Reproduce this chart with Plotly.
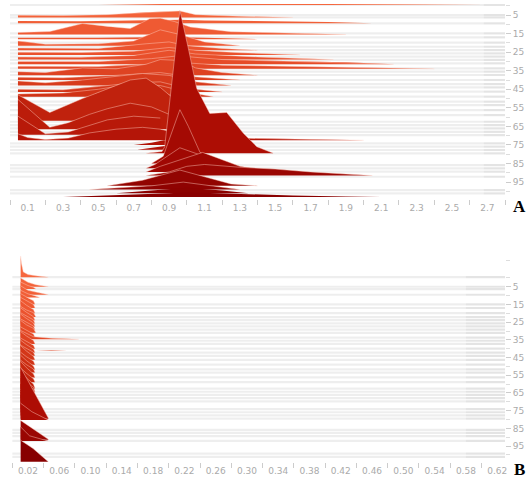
import plotly.graph_objects as go

# ---------------- data ----------------
# Panel A ridges: baseline row, x positions, heights (in row units)
A_rows = [-0.4, 6.3, 9.5, 15.5, 18, 21.5, 24, 26.5, 29, 31.5, 34, 37.5, 40, 43, 46.5, 49,
          53, 57, 62, 66.5, 69.5, 72.5, 75, 77.5, 79.5, 85, 87.5, 89.5, 91.5, 97, 99, 101, 103]
A_x = [
    [0.50, 0.90, 0.97, 1.3, 1.8, 2.3, 2.68],
    [0.045, 0.3, 0.55, 0.77, 0.9, 0.961, 1.05, 1.3, 1.6],
    [0.045, 0.4, 0.8, 0.961, 1.1, 1.5, 1.8, 2.05],
    [0.045, 0.225, 0.41, 0.55, 0.68, 0.79, 0.85, 0.93, 1.02, 1.25, 1.6, 1.9],
    [0.045, 0.5, 0.9, 1.1, 1.4],
    [0.045, 0.1, 0.2, 0.5, 0.7, 0.85, 0.961, 1.1, 1.3],
    [0.045, 0.5, 0.77, 0.9, 1.0, 1.2, 1.4],
    [0.045, 0.4, 0.7, 0.9, 1.05, 1.3, 1.64],
    [0.045, 0.4, 0.7, 0.9, 1.05, 1.4, 1.83],
    [0.045, 0.5, 0.8, 0.95, 1.2, 1.6, 1.9, 2.17],
    [0.045, 0.5, 0.8, 0.95, 1.2, 1.6, 2.0, 2.4],
    [0.045, 0.2, 0.41, 0.6, 0.77, 0.85, 0.96, 1.05, 1.2, 1.4],
    [0.045, 0.3, 0.6, 0.85, 1.0, 1.3],
    [0.045, 0.2, 0.41, 0.6, 0.75, 0.9, 1.05, 1.25],
    [0.045, 0.3, 0.5, 0.7, 0.85, 1.0, 1.2],
    [0.045, 0.3, 0.5, 0.7, 0.85, 1.0, 1.15],
    [0.35, 0.5, 0.68, 0.8, 0.9, 1.0],
    [0.40, 0.55, 0.68, 0.77, 0.88, 1.0],
    [0.045, 0.225, 0.41, 0.55, 0.68, 0.77, 0.85, 0.95],
    [0.045, 0.14, 0.225, 0.33, 0.45, 0.55, 0.68, 0.8, 0.9],
    [0.045, 0.2, 0.33, 0.45, 0.55, 0.7, 0.85],
    [0.045, 0.1, 0.2, 0.33, 0.45, 0.6, 0.75, 0.85, 1.0, 1.3, 1.6, 2.0],
    [0.7, 0.8, 0.87, 0.95, 1.1],
    [0.72, 0.8, 0.87, 0.96, 1.1],
    [0.77, 0.86, 0.875, 0.961, 1.01, 1.056, 1.13, 1.226, 1.32, 1.396, 1.49],
    [0.80, 0.867, 0.961, 1.009, 1.075, 1.17, 1.25],
    [0.77, 0.82, 0.961, 1.05, 1.2, 1.35],
    [0.77, 0.85, 1.09, 1.3, 1.5],
    [0.77, 0.9, 1.0, 1.1, 1.3, 1.5, 1.7, 1.85, 2.05],
    [0.55, 0.75, 0.961, 1.1, 1.25, 1.4],
    [0.45, 0.8, 0.98, 1.15, 1.3],
    [0.6, 0.85, 1.0, 1.2, 1.35],
    [0.3, 0.6, 0.9, 1.0, 1.3, 1.6, 1.9, 2.1],
]
A_h = [
    [0, 0.6, 1.2, 0.8, 0.5, 0.3, 0],
    [1.2, 1.0, 1.5, 2.8, 3.2, 3.5, 1.5, 0.6, 0],
    [1.3, 1.2, 1.5, 2.0, 1.6, 1.2, 0.8, 0],
    [1.1, 1.6, 5.9, 4.3, 3.2, 8.5, 8.8, 7.0, 4.0, 1.5, 0.5, 0],
    [0.8, 0.7, 1.2, 0.8, 0],
    [2.5, 2.0, 0.8, 1.0, 2.5, 8.5, 6, 2, 0],
    [1.2, 1.0, 3.5, 4.5, 2.5, 1.0, 0],
    [1.5, 1.3, 2.0, 4.0, 2.5, 1.2, 0],
    [1.4, 1.2, 2.2, 5.0, 3.0, 1.4, 0],
    [1.5, 1.4, 3.0, 4.5, 2.5, 1.6, 1.0, 0],
    [1.4, 1.3, 2.5, 3.5, 2.0, 1.2, 0.6, 0],
    [2.0, 1.5, 4.0, 3.5, 6.0, 8.5, 8.0, 4.0, 1.5, 0],
    [1.5, 1.2, 2.5, 4.0, 2.0, 0],
    [2.5, 1.5, 3.0, 5.0, 6.5, 5.5, 2.0, 0],
    [1.5, 1.2, 3.0, 5.0, 5.5, 2.0, 0],
    [1.5, 2.0, 4.0, 7.0, 6.0, 2.5, 0],
    [0, 6, 9, 8, 5, 0],
    [0, 7, 11, 10, 7, 0],
    [14, 4.5, 12, 17, 22, 23, 18, 10],
    [16, 8, 1.0, 3.5, 8, 11, 14, 12, 8],
    [10, 0.5, 1.5, 5, 8, 10, 9],
    [3.5, 1.5, 0.4, 1.2, 4, 6, 7, 6, 3, 1.2, 0.6, 0],
    [0, 1.2, 2.5, 2, 0],
    [0, 1.0, 2.0, 3, 0],
    [0, 1, 3.5, 77, 56, 35, 21.5, 22, 10.8, 3.6, 0],
    [0, 4, 29, 20, 6, 1.5, 0],
    [0, 2, 11, 8, 2, 0],
    [0, 3, 10.5, 3, 0],
    [0, 2, 5, 6, 4.5, 3.5, 2, 1, 0],
    [0, 3, 8.5, 5, 1, 0],
    [0, 2, 4, 2, 0],
    [0, 2, 3, 1.5, 0],
    [0, 0.8, 2, 2.5, 1.5, 0.8, 0.3, 0],
]

# Panel B ridges
B_rows = [-0.4, 5, 6.3, 9.5, 11, 14.9, 17, 19.9, 22.1, 23.9, 25.7, 27.4, 29.2, 31, 33.7, 34.7,
          37.3, 40, 41, 42.2, 44, 46.3, 49, 51.7, 53.5, 56.2, 58.9, 62.5, 64.3, 66.1, 67.9,
          69.7, 74.1, 75.9, 77.7, 79.5, 80.3, 91.5, 92.2, 103.9]
B_x = [
    [0.0106, 0.0115, 0.014, 0.02, 0.03, 0.046],
    [0.0106, 0.02, 0.03, 0.046],
    [0.0106, 0.02, 0.027, 0.03],
    [0.0106, 0.02, 0.03, 0.046],
    [0.0106, 0.02, 0.027, 0.035],
    [0.0106, 0.018, 0.027, 0.029],
    [0.0106, 0.018, 0.027, 0.029],
    [0.0106, 0.018, 0.027, 0.029],
    [0.0106, 0.018, 0.027, 0.03],
    [0.0106, 0.018, 0.027, 0.029],
    [0.0106, 0.018, 0.027, 0.029],
    [0.0106, 0.018, 0.027, 0.029],
    [0.0106, 0.018, 0.027, 0.029],
    [0.0106, 0.018, 0.027, 0.03],
    [0.0106, 0.018, 0.027, 0.029],
    [0.0106, 0.027, 0.05, 0.085],
    [0.0106, 0.018, 0.027, 0.029],
    [0.0106, 0.018, 0.027, 0.029],
    [0.03, 0.05, 0.07],
    [0.0106, 0.018, 0.027, 0.029],
    [0.0106, 0.018, 0.027, 0.029],
    [0.0106, 0.018, 0.027, 0.029],
    [0.0106, 0.018, 0.027, 0.029],
    [0.0106, 0.018, 0.027, 0.029],
    [0.0106, 0.018, 0.027, 0.029],
    [0.0106, 0.018, 0.027, 0.029],
    [0.0106, 0.018, 0.027, 0.029],
    [0.0106, 0.018, 0.027, 0.029],
    [0.0106, 0.018, 0.027, 0.029],
    [0.0106, 0.018, 0.027, 0.029],
    [0.0106, 0.018, 0.027, 0.029],
    [0.0106, 0.018, 0.027, 0.029],
    [0.0106, 0.02, 0.03, 0.033],
    [0.0106, 0.02, 0.032, 0.036],
    [0.0106, 0.02, 0.034, 0.04],
    [0.0106, 0.046],
    [0.0106, 0.025, 0.046],
    [0.0106, 0.046],
    [0.0106, 0.022, 0.046],
    [0.0106, 0.0265, 0.046],
]
B_h = [
    [12, 8, 3, 1.5, 0.8, 0],
    [5, 2.5, 1.2, 0],
    [4, 2, 1, 0],
    [5, 2.5, 1.5, 0],
    [4, 2, 1.2, 0],
    [6, 4, 2, 0],
    [6, 4, 2, 0],
    [7, 4.5, 2, 0],
    [6, 4, 2.5, 0],
    [7, 4.5, 2, 0],
    [6, 4, 2, 0],
    [7, 4.5, 2, 0],
    [6, 4, 2, 0],
    [7, 4.5, 2.5, 0],
    [6, 4, 2, 0],
    [5, 1.5, 0.6, 0],
    [7, 4.5, 2, 0],
    [6, 4, 2, 0],
    [0, 0.3, 0],
    [7, 4.5, 2, 0],
    [6, 4, 2, 0],
    [8, 5, 2, 0],
    [7, 4.5, 2, 0],
    [8, 5, 2, 0],
    [7, 4.5, 2, 0],
    [9, 5.5, 2, 0],
    [8, 5, 2, 0],
    [10, 6, 2.5, 0],
    [9, 5.5, 2.5, 0],
    [10, 6.5, 3, 0],
    [9, 6, 3, 0],
    [10, 6.5, 3, 0],
    [11, 7, 3, 0],
    [12, 7.5, 3, 0],
    [12, 8, 3, 0],
    [29, 0.3],
    [9.5, 4.7, 0],
    [11, 0.3],
    [8, 3, 0],
    [12.2, 7.5, 0],
]

# background stripe rows (shared by both panels)
stripe_rows = [-0.4, 5, 6.3, 9.5, 14.9, 17, 19.9, 22.1, 23.9, 25.7, 27.4, 29.2, 31, 33.7,
               35.5, 37.3, 40, 42.2, 44, 46.3, 49, 51.7, 53.5, 56.2, 58.9, 62.5, 64.3, 66.1,
               67.9, 69.7, 74.1, 75.9, 77.7, 79.5, 85.8, 87.6, 89.4, 92.1, 99.3, 101.1]

A_ticks = [0.1, 0.3, 0.5, 0.7, 0.9, 1.1, 1.3, 1.5, 1.7, 1.9, 2.1, 2.3, 2.5, 2.7]
A_ticktext = ["0.1", "0.3", "0.5", "0.7", "0.9", "1.1", "1.3", "1.5", "1.7", "1.9", "2.1", "2.3", "2.5", "2.7"]
B_ticks = [0.02, 0.06, 0.10, 0.14, 0.18, 0.22, 0.26, 0.30, 0.34, 0.38, 0.42, 0.46, 0.50, 0.54, 0.58, 0.62]
B_ticktext = ["0.02", "0.06", "0.10", "0.14", "0.18", "0.22", "0.26", "0.30", "0.34", "0.38",
              "0.42", "0.46", "0.50", "0.54", "0.58", "0.62"]
y_ticks = [5, 15, 25, 35, 45, 55, 65, 75, 85, 95]
y_ticktext = ["5", "15", "25", "35", "45", "55", "65", "75", "85", "95"]

# ---------------- styling helpers ----------------
STOPS = [(-1, (246, 104, 62)), (30, (232, 78, 42)), (55, (200, 42, 16)),
         (80, (172, 12, 4)), (104, (135, 0, 0))]


def row_color(r):
    for (r0, c0), (r1, c1) in zip(STOPS[:-1], STOPS[1:]):
        if r <= r1:
            t = max(0.0, min(1.0, (r - r0) / (r1 - r0)))
            return "rgb(%d,%d,%d)" % tuple(round(a + (b - a) * t) for a, b in zip(c0, c1))
    return "rgb(%d,%d,%d)" % STOPS[-1][1]


fig = go.Figure()


def add_stripes(xa, ya, x0, x1, xdark0):
    xs, ys = [], []
    for r in stripe_rows:
        xs += [x0, x1, None]
        ys += [r, r, None]
    fig.add_trace(go.Scatter(x=xs, y=ys, mode="lines", xaxis=xa, yaxis=ya,
                             line=dict(color="rgba(0,0,0,0.065)", width=2.2),
                             hoverinfo="skip", showlegend=False))
    xs, ys = [], []
    for r in stripe_rows:
        xs += [xdark0, x1, None]
        ys += [r, r, None]
    fig.add_trace(go.Scatter(x=xs, y=ys, mode="lines", xaxis=xa, yaxis=ya,
                             line=dict(color="rgba(0,0,0,0.04)", width=2.2),
                             hoverinfo="skip", showlegend=False))


def add_ridges(rows, xss, hss, xa, ya):
    order = sorted(range(len(rows)), key=lambda i: rows[i])
    for i in order:
        r, xs, hs = rows[i], xss[i], hss[i]
        px = [xs[0]] + list(xs) + [xs[-1]]
        py = [r] + [r - h for h in hs] + [r]
        col = row_color(r)
        fig.add_trace(go.Scatter(x=px, y=py, mode="lines", fill="toself", fillcolor=col,
                                 line=dict(width=0, color=col), xaxis=xa, yaxis=ya,
                                 hoverinfo="skip", showlegend=False))
        if max(hs) > 3:
            fig.add_trace(go.Scatter(x=list(xs), y=[r - h for h in hs], mode="lines",
                                     line=dict(width=0.9, color="rgba(255,205,190,0.5)"),
                                     xaxis=xa, yaxis=ya, hoverinfo="skip", showlegend=False))


add_stripes("x", "y", 0.0, 2.8, 2.68)
add_ridges(A_rows, A_x, A_h, "x", "y")
add_stripes("x2", "y2", 0.0, 0.63, 0.58)
add_ridges(B_rows, B_x, B_h, "x2", "y2")

tickfont = dict(family="DejaVu Sans", size=9, color="#aaaaaa")

xcommon = dict(showgrid=False, zeroline=False, showline=False, ticks="outside", ticklen=0,
               tickfont=tickfont, fixedrange=True)
ycommon = dict(showgrid=False, zeroline=False, showline=False, side="right", ticks="outside",
               ticklen=5, tickcolor="#cccccc", tickvals=y_ticks, ticktext=y_ticktext,
               tickfont=tickfont, fixedrange=True,
               minor=dict(ticks="outside", tickmode="linear", tick0=0, dtick=10, ticklen=4,
                          tickcolor="#dddddd", showgrid=False))

fig.update_layout(
    width=528, height=480,
    margin=dict(l=10, r=23, t=4, b=18),
    paper_bgcolor="white", plot_bgcolor="white",
    showlegend=False,
    xaxis=dict(domain=[0, 1], anchor="y", range=[0, 2.8], tickvals=A_ticks, ticktext=A_ticktext,
               minor=dict(ticks="outside", tickmode="linear", tick0=0, dtick=0.2, ticklen=5,
                          tickcolor="#cccccc", showgrid=False), **xcommon),
    yaxis=dict(domain=[0.5742, 1], anchor="x", range=[104.1, -0.93], **ycommon),
    xaxis2=dict(domain=[0, 1], anchor="y2", range=[-0.003, 0.63], tickvals=B_ticks,
                ticktext=B_ticktext,
                minor=dict(ticks="outside", tickmode="linear", tick0=0, dtick=0.04, ticklen=5,
                           tickcolor="#cccccc", showgrid=False), **xcommon),
    yaxis2=dict(domain=[0, 0.4541], anchor="x2", range=[104, -13.5], **ycommon),
    annotations=[
        dict(text="<b>A</b>", x=1.03, y=0.557, xref="paper", yref="paper", showarrow=False,
             font=dict(family="Liberation Serif", size=17, color="black"), xanchor="center",
             yanchor="middle"),
        dict(text="<b>B</b>", x=1.03, y=-0.017, xref="paper", yref="paper", showarrow=False,
             font=dict(family="Liberation Serif", size=17, color="black"), xanchor="center",
             yanchor="middle"),
    ],
)

fig.write_html("out.html", config={"displayModeBar": False},
               post_script="document.body.style.margin='0';")
